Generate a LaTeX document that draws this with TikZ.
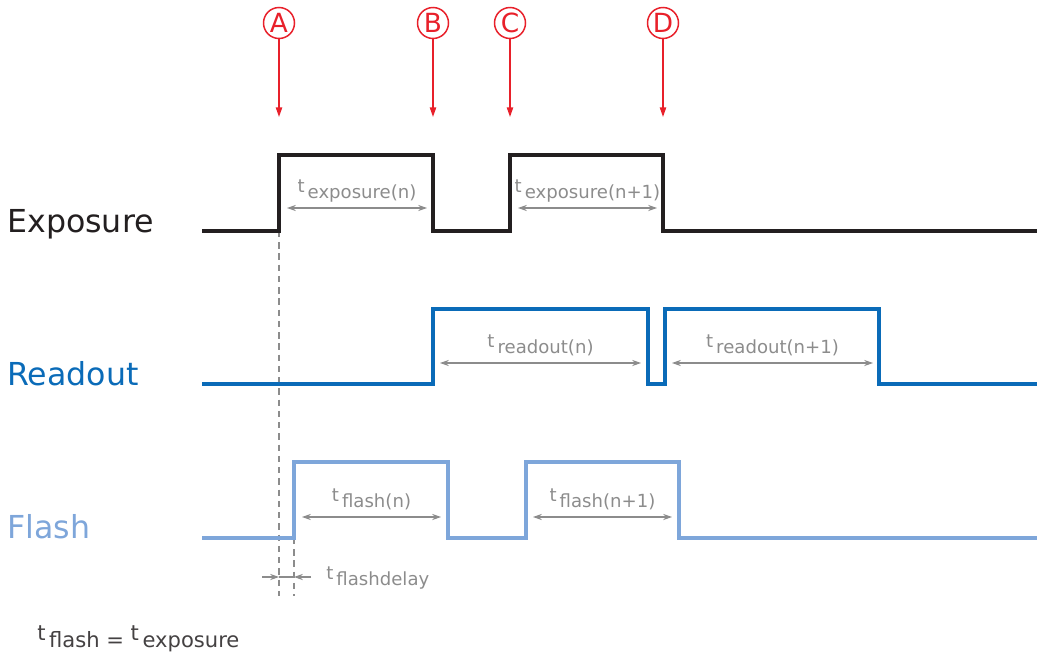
\documentclass[tikz,border=0pt]{standalone}
\usepackage{fontspec}
\setmainfont{DejaVu Sans}
\usetikzlibrary{arrows.meta}
\definecolor{expo}{HTML}{231F20}
\definecolor{rdout}{HTML}{0A6BB8}
\definecolor{flsh}{HTML}{7EA6DA}
\definecolor{dimgrey}{HTML}{8C8C8C}
\definecolor{markred}{HTML}{E8202A}
\newcommand{\tlab}[1]{\raisebox{0.55ex}{t}\,#1}

\begin{document}
\begin{tikzpicture}[x=0.02cm,y=-0.02cm,
	signal/.style={line width=1.9pt,line join=miter},
	dim/.style={dimgrey,line width=0.6pt,{Stealth[length=5pt,width=3.5pt]}-{Stealth[length=5pt,width=3.5pt]}},
	dimtext/.style={text=dimgrey,font=\fontsize{10.3}{12}\selectfont,inner sep=0pt},
	marker/.style={circle,draw=markred,text=markred,line width=0.85pt,minimum size=0.62cm,inner sep=0pt,font=\fontsize{15}{15}\selectfont},
	markarrow/.style={markred,line width=0.8pt,-{Triangle[length=5.5pt,width=3.6pt]}},
	guide/.style={dimgrey,line width=0.6pt,dash pattern=on 3.6pt off 2.8pt},
	sigtext/.style={anchor=base west,inner sep=0pt,font=\fontsize{18}{20}\selectfont}]
	\useasboundingbox (0,0) rectangle (1037,655);

	% markers
	\foreach \n/\x in {A/279,B/433,C/510,D/663}{
		\node[marker] (m\n) at (\x,23) {\n};
		\draw[markarrow] (m\n.south) -- (\x,117);
	}

	% signal names
	\node[sigtext,text=expo] (lexpo) at (7,233) {Exposure};
	\node[sigtext,text=rdout] (lread) at (7,385) {Readout};
	\node[sigtext,text=flsh] (lflash) at (7,538) {Flash};

	% guides
	\draw[guide] (279,231) -- (279,596);
	\draw[guide] (294,538) -- (294,596);

	% waveforms
	\draw[signal,expo] (202,231) -- (279,231) -- (279,155) -- (433,155) -- (433,231)
		-- (510,231) -- (510,155) -- (663,155) -- (663,231) -- (1037,231);
	\draw[signal,rdout] (202,384) -- (433,384) -- (433,309) -- (648,309) -- (648,384)
		-- (665,384) -- (665,309) -- (879,309) -- (879,384) -- (1037,384);
	\draw[signal,flsh] (202,538) -- (294,538) -- (294,462) -- (448,462) -- (448,538)
		-- (526,538) -- (526,462) -- (679,462) -- (679,538) -- (1037,538);

	% durations
	\foreach \a/\b/\y/\lab in {287/427/208/{exposure(n)},518/657/208/{exposure(n+1)},
		440/641/363/{readout(n)},672/873/363/{readout(n+1)},
		302/441/517/{flash(n)},533/672/517/{flash(n+1)}}{
		\draw[dim] (\a,\y) -- (\b,\y);
		\node[dimtext,anchor=base] at ({(\a+\b)/2},\y-10) {\tlab{\lab}};
	}

	% flash delay
	\draw[dimgrey,line width=0.6pt,-{Stealth[length=5pt,width=3.5pt]}] (262,577) -- (279,577);
	\draw[dimgrey,line width=0.6pt] (279,577) -- (294,577);
	\draw[dimgrey,line width=0.6pt,-{Stealth[length=5pt,width=3.5pt]}] (311,577) -- (294,577);
	\node[dimtext,anchor=base west] (ldelay) at (326,585) {\tlab{flashdelay}};

	\node[anchor=base west,inner sep=0pt,text=expo!85,font=\fontsize{12}{14}\selectfont] (lnote) at (37,647)
		{\tlab{flash} = \tlab{exposure}};
\end{tikzpicture}
\end{document}
